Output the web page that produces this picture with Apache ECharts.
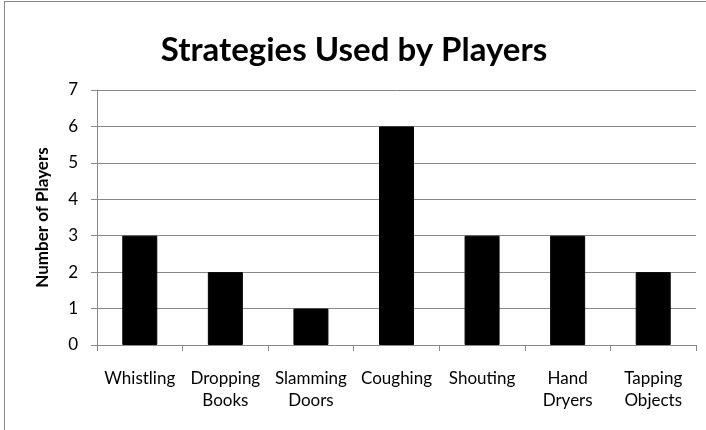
<!DOCTYPE html>
<html>
<head>
<meta charset="utf-8">
<script src="https://cdn.jsdelivr.net/npm/echarts@6/dist/echarts.min.js"></script>
<style>
html, body { margin: 0; padding: 0; background: #fff; }
#box { position: absolute; left: 4px; top: 1px; width: 710px; height: 440px; border-left: 1px solid #888; border-top: 1px solid #888; }
#chart { position: absolute; left: -4px; top: -1px; width: 706px; height: 430px; }
</style>
</head>
<body>
<div id="box"><div id="chart"></div></div>
<script>
var categories = ['Whistling', 'Dropping\nBooks', 'Slamming\nDoors', 'Coughing', 'Shouting', 'Hand\nDryers', 'Tapping\nObjects'];
var players = [3, 2, 1, 6, 3, 3, 2];
var yTicks = [0, 7, 1]; // min, max, interval

var myChart = echarts.init(document.getElementById('chart'));
var fontName = 'Lato, "Open Sans", sans-serif';

var option = {
	animation: false,
	title: {
		text: 'Strategies Used by Players',
		left: 'center',
		top: 28,
		textStyle: {
			fontFamily: fontName,
			fontSize: 33,
			fontWeight: 'bold',
			color: '#000'
		}
	},
	grid: {
		left: 96,
		right: 11,
		top: 89,
		bottom: 86
	},
	xAxis: {
		type: 'category',
		data: categories,
		axisLine: { lineStyle: { color: '#888' } },
		axisTick: { show: true, length: 6, lineStyle: { color: '#888' } },
		axisLabel: {
			fontFamily: fontName,
			fontSize: 17,
			color: '#000',
			margin: 23,
			lineHeight: 22,
			interval: 0
		}
	},
	yAxis: {
		type: 'value',
		min: yTicks[0],
		max: yTicks[1],
		interval: yTicks[2],
		name: 'Number of Players',
		nameLocation: 'middle',
		nameGap: 46,
		nameTextStyle: {
			fontFamily: fontName,
			fontSize: 17,
			fontWeight: 'bold',
			color: '#000'
		},
		axisLine: { show: true, lineStyle: { color: '#888' } },
		axisTick: { show: true, length: 6, lineStyle: { color: '#888' } },
		splitLine: { lineStyle: { color: '#888' } },
		axisLabel: {
			fontFamily: fontName,
			fontSize: 17,
			color: '#000',
			margin: 19
		}
	},
	series: [{
		type: 'bar',
		data: players,
		barWidth: 35,
		itemStyle: {
			color: '#000',
			borderColor: '#000',
			borderWidth: 1
		}
	}]
};

myChart.setOption(option);
</script>
</body>
</html>
